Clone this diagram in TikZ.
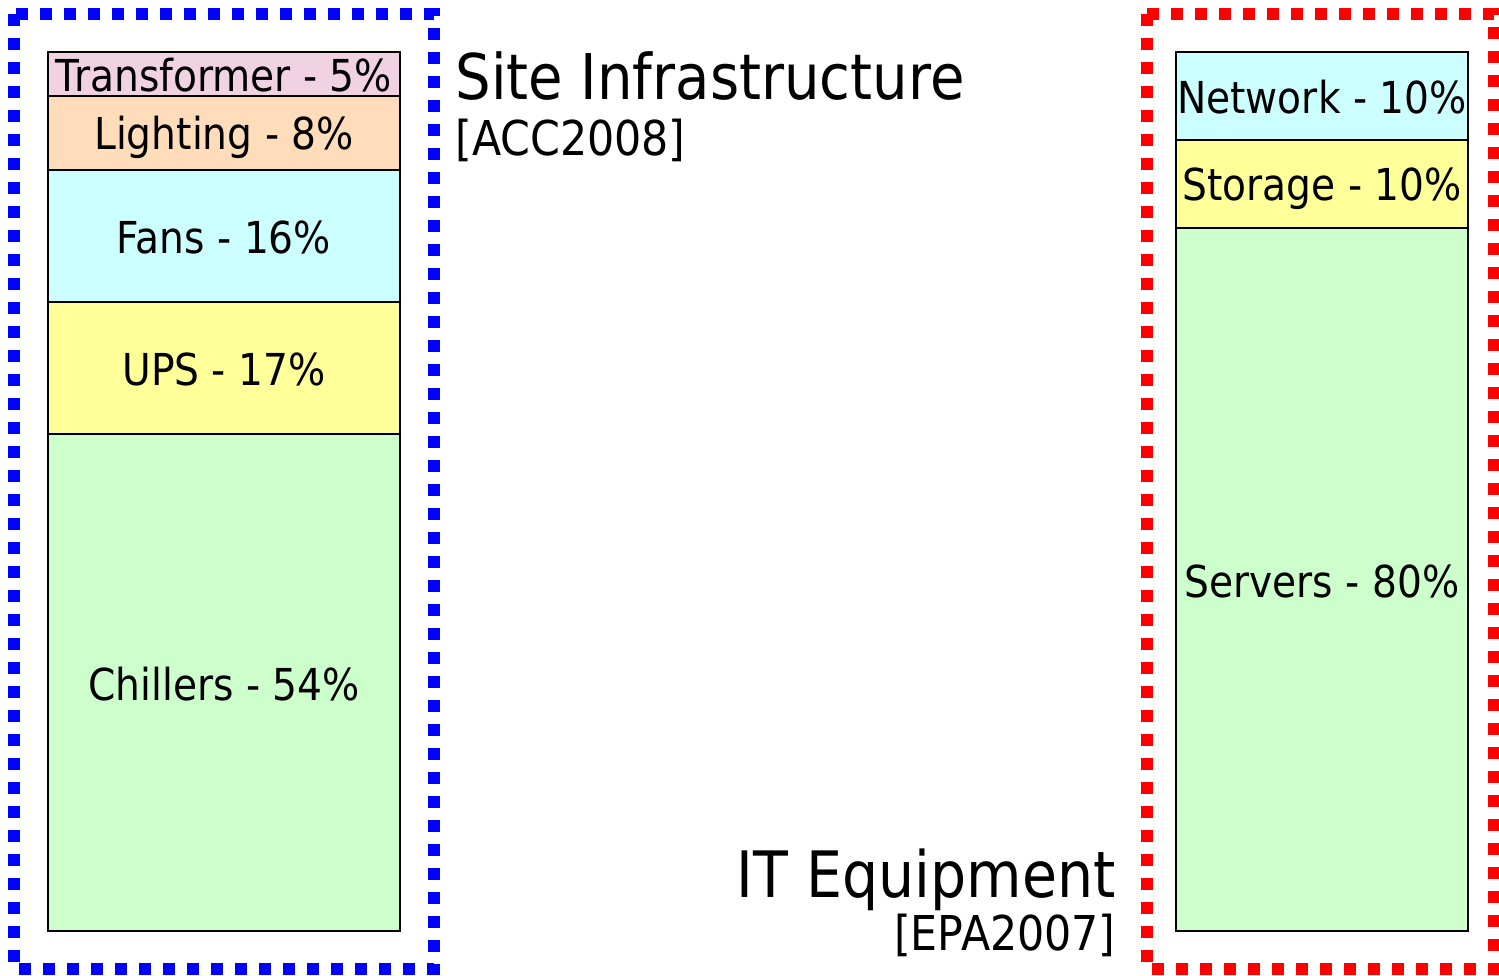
\documentclass[tikz,border=0pt]{standalone}
\usepackage{fontspec}
\setmainfont{DejaVu Sans}[FakeStretch=0.89]

\definecolor{pinkseg}{RGB}{240,210,226}
\definecolor{peachseg}{RGB}{255,221,187}
\definecolor{cyanseg}{RGB}{204,255,255}
\definecolor{yellowseg}{RGB}{255,255,153}
\definecolor{greenseg}{RGB}{204,255,204}

\begin{document}
\begin{tikzpicture}[x=0.5pt,y=-0.5pt,
  segbox/.style={draw=black,line width=1.1pt},
  seglabel/.style={anchor=base,inner sep=0pt,font=\fontsize{22pt}{26pt}\selectfont},
  dotframe/.style={line width=6pt,dash pattern=on 6pt off 6pt},
  headline/.style={inner sep=0pt,font=\fontsize{31.5pt}{36pt}\selectfont},
  refline/.style={inner sep=0pt,font=\fontsize{24pt}{28pt}\selectfont}]

\useasboundingbox (0,0) rectangle (1499,975);

% ---- site infrastructure stack ----
\filldraw[segbox,fill=pinkseg]   (48,52)  rectangle (400,96);
\filldraw[segbox,fill=peachseg]  (48,96)  rectangle (400,170);
\filldraw[segbox,fill=cyanseg]   (48,170) rectangle (400,302);
\filldraw[segbox,fill=yellowseg] (48,302) rectangle (400,434);
\filldraw[segbox,fill=greenseg]  (48,434) rectangle (400,931);

\node[seglabel] (transformer) at (224,91)  {Transformer - 5\%};
\node[seglabel] (lighting)    at (224,149) {Lighting - 8\%};
\node[seglabel] (fans)        at (224,253) {Fans - 16\%};
\node[seglabel] (ups)         at (224,385) {UPS - 17\%};
\node[seglabel] (chillers)    at (224,700) {Chillers - 54\%};

\draw[dotframe,blue] (14,14) rectangle (434,969);

% ---- IT equipment stack ----
\filldraw[segbox,fill=cyanseg]   (1176,52)  rectangle (1468,140);
\filldraw[segbox,fill=yellowseg] (1176,140) rectangle (1468,228);
\filldraw[segbox,fill=greenseg]  (1176,228) rectangle (1468,931);

\node[seglabel] (network) at (1322,113) {Network - 10\%};
\node[seglabel] (storage) at (1322,200) {Storage - 10\%};
\node[seglabel] (servers) at (1322,597) {Servers - 80\%};

\draw[dotframe,red] (1147,14) rectangle (1494,969);

% ---- headings ----
\node[headline,anchor=base west] (sitehead) at (455,99) {Site Infrastructure};
\node[refline,anchor=base west]  (siteref)  at (455,155) {[ACC2008]};

\node[headline,anchor=base east,font=\fontsize{32pt}{36pt}\selectfont] (ithead) at (1116,897) {IT Equipment};
\node[refline,anchor=base east]  (itref)  at (1116,950) {[EPA2007]};

\end{tikzpicture}
\end{document}
